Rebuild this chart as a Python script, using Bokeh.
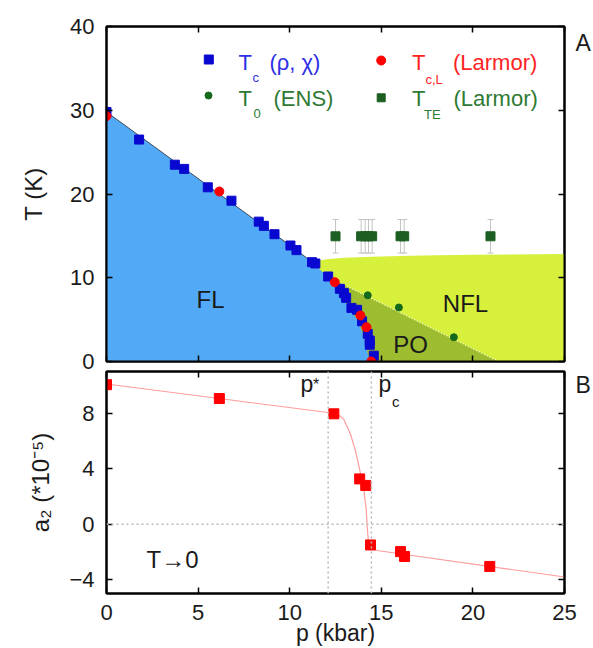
from bokeh.plotting import figure
from bokeh.models import Label, LinearAxis, Range1d, Span, FixedTicker, CustomJSTickFormatter
from bokeh.layouts import column
from bokeh.embed import file_html
from bokeh.resources import INLINE

FONT = "Liberation Sans"

# ---------------- data: panel A ----------------
tc_p = [0, 1.78, 3.73, 4.24, 5.53, 6.82, 8.31, 8.59, 9.17, 10.04, 10.37, 11.22, 11.4,
        12.1, 12.74, 12.96, 13.08, 13.37, 13.68, 13.95, 14.26, 14.37, 14.37, 14.59]
tc_T = [29.8, 26.5, 23.5, 23.0, 20.8, 19.2, 16.7, 16.2, 15.2, 13.85, 13.3, 11.86, 11.7,
        10.15, 8.68, 8.16, 7.6, 6.4, 6.17, 4.8, 3.3, 2.5, 2.0, 0.7]
tcl_p = [0, 6.16, 12.46, 13.86, 14.19, 14.45]
tcl_T = [29.3, 20.3, 9.47, 5.5, 4.1, 0.0]
t0_p = [14.26, 15.96, 18.96]
t0_T = [7.9, 6.45, 2.9]
tte_p = [12.5, 13.9, 14.12, 14.3, 14.5, 16.05, 16.25, 20.96]
tte_T = [14.95, 14.95, 14.95, 14.95, 14.95, 14.95, 14.95, 14.95]
tte_err = [2.0, 2.0, 2.0, 2.0, 2.0, 2.0, 2.0, 2.0]

# phase boundaries
fl_p = [0, 10.37, 11.23, 12.05, 12.73, 13.23, 13.72, 14.05, 14.26, 14.37]
fl_T = [29.8, 13.3, 11.86, 10.15, 8.2, 6.4, 4.9, 2.9, 0.9, 0]
nfl_top_p = [11.2, 11.6, 12.0, 13.0, 14.5, 16.0, 18.0, 20.0, 25.0]
nfl_top_T = [11.86, 12.05, 12.2, 12.4, 12.52, 12.6, 12.7, 12.75, 12.85]
po_p = [12.1, 21.4]
po_T = [10.1, 0.0]

# ---------------- data: panel B ----------------
a2_p = [0, 6.16, 12.41, 13.82, 14.15, 14.41, 16.05, 16.27, 20.92]
a2_v = [10.05, 9.05, 7.95, 3.26, 2.79, -1.5, -1.98, -2.33, -3.05]
a2_err = [0.25, 0.25, 0.25, 0.25, 0.25, 0.25, 0.3, 0.3, 0.3]
fit_p = [0, 12.41, 12.7, 12.95, 13.32, 13.59, 13.83, 14.05, 14.18, 14.23, 14.29, 14.35, 14.5, 14.77, 25]
fit_v = [10.1, 7.99, 7.85, 7.55, 6.48, 5.29, 3.86, 2.43, 1.0, -0.19, -1.14, -1.55, -1.78, -1.9, -3.81]
p_star = 12.1
p_c = 14.46

x_ticks = [0, 5, 10, 15, 20, 25]
yA_ticks = [0, 10, 20, 30, 40]
yB_ticks = [-4, 0, 4, 8]
panel_A_label = "A"
panel_B_label = "B"

# colors
C_FL = "#52aaf6"
C_NFL = "#d6f03c"
C_PO = "#9dbc2f"
C_BLUE = "#0808d0"
C_RED = "#ff0000"
C_GREEN = "#146a1c"
C_TTE = "#1d5e22"
TXT = "#1a1a1a"

# frame geometry (pixels)
FX0, FX1 = 106, 564
A_Y0, A_Y1 = 26, 361
B_Y0, B_Y1 = 371, 593
A_H = 369


def a_xy(px, py):
    return (px - FX0) / (FX1 - FX0) * 25, (A_Y1 - py) / (A_Y1 - A_Y0) * 40


def b_xy(px, py):
    return (px - FX0) / (FX1 - FX0) * 25, -5 + (B_Y1 - py) / (B_Y1 - B_Y0) * 16


BLANK = CustomJSTickFormatter(code="return ''")


def mirror_axis(ticks):
    return LinearAxis(ticker=FixedTicker(ticks=ticks), formatter=BLANK,
                      axis_line_width=2, axis_line_color="black",
                      major_tick_in=6, major_tick_out=0, major_tick_line_width=1.5,
                      minor_tick_line_color=None, major_label_standoff=0,
                      major_label_text_font_size="1px")


def add_axes(p, yticks, show_x, ylabel, ylabel_standoff, tag, tag_tick):
    common = dict(axis_line_width=2, axis_line_color="black",
                  major_tick_in=6, major_tick_out=0, major_tick_line_width=1.5,
                  minor_tick_line_color=None,
                  major_label_text_font=FONT, major_label_text_font_size="22px",
                  major_label_text_color=TXT)
    left = LinearAxis(ticker=FixedTicker(ticks=yticks), major_label_standoff=12,
                      axis_label=ylabel, axis_label_text_font=FONT,
                      axis_label_text_font_size="24px", axis_label_text_font_style="normal",
                      axis_label_text_color=TXT, axis_label_standoff=ylabel_standoff, **common)
    p.add_layout(left, "left")
    # right axis: mirror ticks drawn as minor ticks, panel tag ("A"/"B") as the only label
    right = LinearAxis(ticker=FixedTicker(ticks=[tag_tick], minor_ticks=yticks),
                       major_label_overrides={tag_tick: tag},
                       axis_line_width=2, axis_line_color="black",
                       major_tick_line_color=None, major_tick_in=0, major_tick_out=0,
                       minor_tick_line_color="black", minor_tick_line_width=1.5,
                       minor_tick_in=6, minor_tick_out=0,
                       major_label_standoff=11, major_label_text_font=FONT,
                       major_label_text_font_size="23px", major_label_text_color=TXT)
    p.add_layout(right, "right")
    p.add_layout(mirror_axis(x_ticks), "above")
    if show_x:
        bottom = LinearAxis(ticker=FixedTicker(ticks=x_ticks), major_label_standoff=11,
                            axis_label="p (kbar)", axis_label_text_font=FONT,
                            axis_label_text_font_size="23px", axis_label_text_font_style="normal",
                            axis_label_text_color=TXT, axis_label_standoff=-3, **common)
        p.add_layout(bottom, "below")
    else:
        p.add_layout(mirror_axis(x_ticks), "below")


def label(p, x, y, text, size, color=TXT, align="left"):
    p.add_layout(Label(x=x, y=y, text=text, text_font=FONT, text_font_size=size,
                       text_color=color, text_align=align, text_baseline="middle"))


# ================= Panel A =================
pA = figure(width=593, height=A_H, x_range=Range1d(0, 25), y_range=Range1d(0, 40),
            x_axis_location=None, y_axis_location=None, toolbar_location=None,
            output_backend="svg", min_border_left=FX0, min_border_right=593 - FX1,
            min_border_top=A_Y0, min_border_bottom=A_H - A_Y1)
pA.grid.visible = False
pA.outline_line_color = "black"
pA.outline_line_width = 2
pA.background_fill_color = "white"
pA.border_fill_color = "white"
add_axes(pA, yA_ticks, False, "T (K)", 20, panel_A_label, 38)

# regions
nfl_x = nfl_top_p + [25, nfl_top_p[0]]
nfl_y = nfl_top_T + [0, 0]
pA.patch(nfl_x, nfl_y, fill_color=C_NFL, line_color=None)
po_x = po_p + [po_p[0] - 0.2]
po_y = po_T + [0]
pA.patch(po_x, po_y, fill_color=C_PO, line_color=None)
fl_x = fl_p + [0]
fl_y = fl_T + [0]
pA.patch(fl_x, fl_y, fill_color=C_FL, line_color=None)
pA.line(fl_p[:3], fl_T[:3], line_color="#3a4a5a", line_width=1)
pA.line(po_p, po_T, line_color="white", line_width=1.2, line_dash="1 2")

# error bars for T_TE
tte_lo = [t - e for t, e in zip(tte_T, tte_err)]
tte_hi = [t + e for t, e in zip(tte_T, tte_err)]
pA.segment(x0=tte_p, y0=tte_lo, x1=tte_p, y1=tte_hi, line_color="#c4c4c4", line_width=1)
pA.scatter(tte_p, tte_lo, marker="dash", size=6, line_color="#c4c4c4", line_width=1)
pA.scatter(tte_p, tte_hi, marker="dash", size=6, line_color="#c4c4c4", line_width=1)

pA.scatter(tte_p, tte_T, marker="square", size=9, fill_color=C_TTE, line_color=C_TTE)
pA.scatter(t0_p, t0_T, marker="circle", size=7, fill_color=C_GREEN, line_color=C_GREEN)
pA.scatter(tc_p, tc_T, marker="square", size=9, fill_color=C_BLUE, line_color=C_BLUE)
pA.scatter(tcl_p, tcl_T, marker="circle", size=9, fill_color=C_RED, line_color=C_RED)

# legend (manual)
lx, ly = a_xy(208.3, 59)
pA.scatter([lx], [ly], marker="square", size=9, fill_color=C_BLUE, line_color=C_BLUE)
lx, ly = a_xy(208, 95)
pA.scatter([lx], [ly], marker="circle", size=7, fill_color=C_GREEN, line_color=C_GREEN)
lx, ly = a_xy(380.7, 60)
pA.scatter([lx], [ly], marker="circle", size=9, fill_color=C_RED, line_color=C_RED)
lx, ly = a_xy(380.7, 97.3)
pA.scatter([lx], [ly], marker="square", size=8, fill_color=C_TTE, line_color=C_TTE)

TXT_BLUE = "#2f2fe6"
TXT_RED = "#ff2424"
TXT_GREEN = "#2e7a33"
LEG = "22px"
SUB = "13px"
label(pA, *a_xy(238, 61.5), "T", LEG, TXT_BLUE)
label(pA, *a_xy(252, 76.5), "c", SUB, TXT_BLUE)
label(pA, *a_xy(269, 61.5), "(ρ, χ)", LEG, TXT_BLUE)
label(pA, *a_xy(238, 98), "T", LEG, TXT_GREEN)
label(pA, *a_xy(253, 112.5), "0", SUB, TXT_GREEN)
label(pA, *a_xy(273, 98), "(ENS)", LEG, TXT_GREEN)
label(pA, *a_xy(411.5, 61.5), "T", LEG, TXT_RED)
label(pA, *a_xy(425, 78.5), "c,L", SUB, TXT_RED)
label(pA, *a_xy(452.5, 61.5), "(Larmor)", LEG, TXT_RED)
label(pA, *a_xy(411.5, 98), "T", LEG, TXT_GREEN)
label(pA, *a_xy(423.5, 114), "TE", SUB, TXT_GREEN)
label(pA, *a_xy(453, 98), "(Larmor)", LEG, TXT_GREEN)

# region names
label(pA, *a_xy(210, 299), "FL", "24px", align="center")
label(pA, *a_xy(465, 302.5), "NFL", "24px", align="center")
label(pA, *a_xy(410, 344), "PO", "24px", align="center")

# ================= Panel B =================
B_H = 648 - A_H
pB = figure(width=593, height=B_H, x_range=Range1d(0, 25), y_range=Range1d(-5, 11),
            x_axis_location=None, y_axis_location=None, toolbar_location=None,
            output_backend="svg", min_border_left=FX0, min_border_right=593 - FX1,
            min_border_top=B_Y0 - A_H, min_border_bottom=648 - B_Y1)
pB.grid.visible = False
pB.outline_line_color = "black"
pB.outline_line_width = 2
pB.background_fill_color = "white"
pB.border_fill_color = "white"
add_axes(pB, yB_ticks, True, "a₂ (*10⁻⁵)", 12, panel_B_label, 10)

for sp in [Span(location=0, dimension="width"),
           Span(location=p_star, dimension="height"),
           Span(location=p_c, dimension="height")]:
    sp.line_color = "#b8b8b8"
    sp.line_width = 1.5
    sp.line_dash = "2 3"
    pB.add_layout(sp)

pB.line(fit_p, fit_v, line_color="#ff9c9c", line_width=1.2)
a2_lo = [v - e for v, e in zip(a2_v, a2_err)]
a2_hi = [v + e for v, e in zip(a2_v, a2_err)]
pB.segment(x0=a2_p, y0=a2_lo, x1=a2_p, y1=a2_hi, line_color="#c4c4c4", line_width=1)
pB.scatter(a2_p, a2_lo, marker="dash", size=5, line_color="#c4c4c4", line_width=1)
pB.scatter(a2_p, a2_hi, marker="dash", size=5, line_color="#c4c4c4", line_width=1)
pB.scatter(a2_p, a2_v, marker="square", size=10, fill_color=C_RED, line_color=C_RED)

label(pB, *b_xy(300, 383.5), "p", "23px")
label(pB, *b_xy(312.5, 384), "*", "16px")
label(pB, *b_xy(378, 383.5), "p", "23px")
label(pB, *b_xy(391.5, 401), "c", "15px")
label(pB, *b_xy(146, 558.5), "T→0", "24px")

layout = column(pA, pB, spacing=0)
open("out.html", "w").write(file_html(layout, INLINE))
